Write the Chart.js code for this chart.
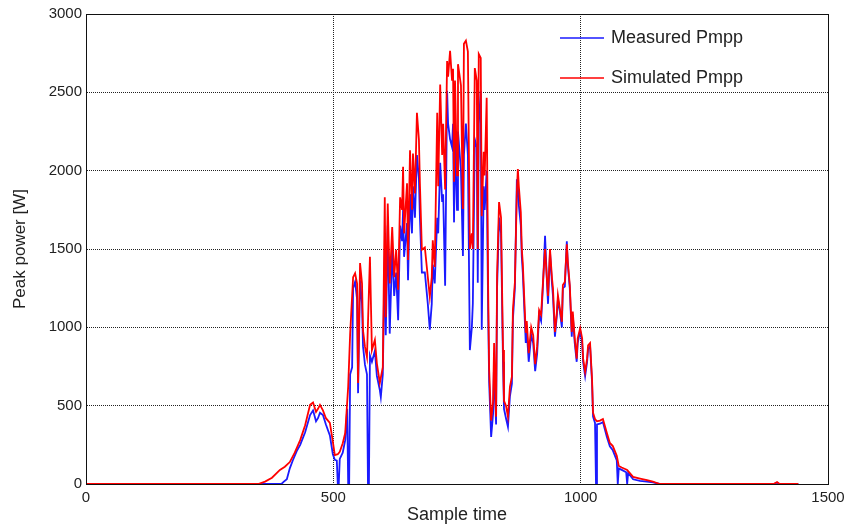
<!DOCTYPE html>
<html>
<head>
<meta charset="utf-8">
<script src="https://cdn.jsdelivr.net/npm/chart.js@4.4.1/dist/chart.umd.min.js"></script>
<style>
  html, body { margin: 0; padding: 0; background: #fff; }
  #wrap { width: 850px; height: 531px; }
</style>
</head>
<body>
<div id="wrap"><canvas id="pmppChart" width="850" height="531"></canvas></div>
<script>
// Sample time axis and peak power readings (W)
const simulatedTime = [
    0, 348, 362, 376, 392, 402, 412, 422, 433, 443, 453, 459, 465, 469, 473, 479, 485, 493, 499, 503,
    509, 513, 519, 524, 530, 534, 540, 544, 548, 550, 554, 558, 560, 564, 568, 574, 578, 584, 588, 594,
    600, 604, 606, 610, 614, 619, 623, 627, 631, 635, 639, 641, 643, 649, 651, 655, 659, 661, 665, 669,
    673, 675, 679, 685, 691, 695, 699, 701, 705, 710, 712, 716, 720, 722, 726, 730, 732, 736, 740, 742,
    744, 746, 750, 752, 758, 762, 764, 768, 772, 776, 780, 782, 786, 790, 792, 794, 798, 800, 804, 806,
    810, 813, 815, 819, 823, 825, 827, 829, 831, 835, 839, 843, 845, 849, 853, 857, 861, 863, 867, 871,
    873, 875, 879, 881, 883, 887, 889, 891, 895, 900, 904, 908, 912, 916, 920, 924, 928, 932, 934, 938,
    942, 944, 948, 952, 954, 958, 962, 964, 968, 972, 974, 978, 982, 984, 988, 992, 994, 999, 1003, 1005,
    1009, 1013, 1015, 1019, 1023, 1025, 1029, 1033, 1039, 1045, 1053, 1059, 1065, 1073, 1077, 1083, 1094, 1106, 1120, 1134,
    1146, 1160, 1390, 1397, 1402, 1440
];
const simulatedPower = [
    0, 0, 15, 40, 90, 110, 140, 200, 280, 375, 505, 520, 460, 480, 505, 470, 420, 390, 270, 185,
    190, 205, 260, 325, 620, 960, 1320, 1345, 1280, 645, 1410, 1280, 980, 875, 810, 1450, 855, 920, 770, 645,
    745, 1830, 1065, 1790, 1280, 1640, 1320, 1495, 1240, 1830, 1750, 2025, 1600, 1920, 1430, 2130, 1750, 2110, 1855, 2370,
    2200, 1920, 1495, 1510, 1320, 1195, 1320, 1555, 1385, 2370, 1900, 2550, 2100, 2300, 1880, 2700, 2600, 2765, 2575, 2650,
    1930, 2575, 1970, 2680, 2545, 1755, 2810, 2830, 2760, 1500, 1600, 1500, 2655, 2575, 1500, 2745, 2720, 1710, 2120, 1970,
    2465, 1240, 730, 405, 530, 900, 640, 430, 1330, 1800, 1700, 855, 530, 500, 430, 620, 685, 1110, 1285, 1865,
    2010, 1900, 1735, 1500, 1410, 1110, 965, 1040, 835, 1000, 950, 765, 875, 1110, 1080, 1300, 1500, 1300, 1200, 1500,
    1315, 1250, 970, 1100, 1205, 1120, 1035, 1270, 1290, 1530, 1420, 1270, 970, 1100, 930, 800, 930, 995, 930, 800,
    715, 800, 885, 900, 670, 455, 415, 400, 405, 415, 325, 262, 242, 180, 115, 105, 90, 45, 35, 25,
    15, 0, 0, 12, 0, 0
];

const measuredTime = [
    0, 395, 400, 406, 412, 418, 426, 433, 443, 453, 459, 465, 469, 473, 479, 485, 493, 499, 503, 507,
    509, 511, 513, 519, 524, 528, 530, 532, 534, 538, 540, 544, 548, 550, 554, 558, 560, 564, 568, 570,
    572, 574, 578, 584, 588, 594, 596, 600, 604, 606, 610, 614, 619, 623, 627, 631, 635, 639, 641, 643,
    649, 651, 655, 659, 661, 665, 669, 673, 675, 679, 685, 691, 695, 699, 701, 705, 710, 712, 716, 720,
    722, 726, 730, 732, 736, 740, 742, 744, 746, 750, 752, 758, 762, 764, 768, 772, 776, 780, 782, 786,
    790, 792, 794, 798, 800, 804, 806, 810, 813, 815, 819, 823, 825, 827, 829, 831, 835, 839, 843, 845,
    849, 853, 857, 861, 863, 867, 871, 873, 875, 879, 881, 883, 887, 889, 891, 895, 900, 904, 908, 912,
    916, 920, 924, 928, 932, 934, 938, 942, 944, 948, 952, 954, 958, 962, 964, 968, 972, 974, 978, 982,
    984, 988, 992, 994, 999, 1003, 1005, 1009, 1013, 1015, 1019, 1023, 1025, 1029, 1031, 1033, 1039, 1045, 1053, 1059,
    1065, 1073, 1075, 1077, 1083, 1092, 1094, 1096, 1106, 1120, 1134, 1146, 1160, 1390, 1397, 1402, 1440
];
const measuredPower = [
    0, 0, 15, 30, 100, 150, 210, 250, 330, 440, 470, 400, 420, 455, 440, 380, 310, 190, 155, 150,
    0, 0, 160, 200, 280, 480, 0, 0, 700, 745, 1250, 1290, 1180, 580, 1300, 1150, 880, 760, 700, 0,
    0, 820, 780, 850, 690, 600, 555, 700, 1500, 950, 1650, 960, 1500, 1200, 1350, 1045, 1650, 1550, 1750, 1450,
    1665, 1300, 1850, 1600, 1900, 1700, 2100, 1950, 1705, 1350, 1350, 1150, 985, 1150, 1400, 1280, 1700, 1600, 2050, 1800,
    1850, 1265, 2510, 2300, 2200, 2150, 2300, 1670, 2200, 1750, 2250, 2000, 1455, 2100, 2300, 2100, 855, 1000, 1150, 2200,
    2150, 1285, 2300, 2510, 985, 1900, 1750, 2000, 1100, 650, 300, 450, 800, 560, 380, 1250, 1700, 1600, 780, 480,
    420, 365, 560, 640, 1050, 1250, 1945, 1900, 1780, 1650, 1450, 1350, 1050, 900, 980, 780, 950, 900, 720, 830,
    1080, 1040, 1280, 1585, 1280, 1150, 1480, 1280, 1200, 940, 1080, 1180, 1100, 1000, 1250, 1260, 1550, 1400, 1250, 940,
    1080, 900, 780, 900, 980, 900, 780, 690, 780, 860, 880, 650, 430, 390, 0, 380, 385, 395, 300, 240,
    215, 150, 0, 100, 90, 75, 0, 70, 30, 20, 15, 10, 0, 0, 8, 0, 0
];

const xTicks = [0, 500, 1000, 1500];
const yTicks = [0, 500, 1000, 1500, 2000, 2500, 3000];
const seriesNames = ['Measured Pmpp', 'Simulated Pmpp'];

const fontFamily = '"Liberation Sans", Arial, sans-serif';

// kutu çerçevesi ve grafik içi açıklama
const boxAndLegend = {
    id: 'boxAndLegend',
    afterDraw(chart) {
        const ctx = chart.ctx;
        const a = chart.chartArea;
        ctx.save();
        ctx.strokeStyle = '#111';
        ctx.lineWidth = 1;
        ctx.setLineDash([]);
        ctx.strokeRect(a.left + 0.5, a.top + 0.5, a.right - a.left, a.bottom - a.top);

        ctx.font = '18px ' + fontFamily;
        ctx.textBaseline = 'middle';
        ctx.textAlign = 'left';
        const rows = [38, 78];
        chart.data.datasets.forEach((ds, i) => {
            const y = rows[i];
            ctx.strokeStyle = ds.borderColor;
            ctx.lineWidth = 1.5;
            ctx.beginPath();
            ctx.moveTo(560, y);
            ctx.lineTo(604, y);
            ctx.stroke();
            ctx.fillStyle = '#222';
            ctx.fillText(ds.label, 611, y);
        });
        ctx.restore();
    }
};

const pmppChart = new Chart(
    document.getElementById('pmppChart'),
    {
        type: 'line',
        data: {
            datasets: [{
                label: seriesNames[0],
                data: measuredTime.map((t, i) => ({ x: t, y: measuredPower[i] })),
                borderColor: '#1a1aff',
                borderWidth: 1.8,
                pointRadius: 0,
                tension: 0,
                order: 2
            }, {
                label: seriesNames[1],
                data: simulatedTime.map((t, i) => ({ x: t, y: simulatedPower[i] })),
                borderColor: '#ff0000',
                borderWidth: 1.8,
                pointRadius: 0,
                tension: 0,
                order: 1
            }]
        },
        options: {
            responsive: false,
            animation: false,
            layout: {
                padding: { top: 14, right: 22, left: 0, bottom: 0 }
            },
            plugins: {
                legend: { display: false },
                tooltip: { enabled: false }
            },
            scales: {
                x: {
                    type: 'linear',
                    min: 0,
                    max: 1500,
                    afterBuildTicks: (scale) => {
                        scale.ticks = xTicks.map(v => ({ value: v }));
                    },
                    afterFit: (scale) => { scale.height = 47; },
                    grid: {
                        color: '#222',
                        drawTicks: false
                    },
                    border: { display: true, color: '#111', dash: [1, 1] },
                    ticks: {
                        color: '#222',
                        padding: 5,
                        font: { family: fontFamily, size: 15 },
                        callback: (v) => String(v)
                    },
                    title: {
                        display: true,
                        text: 'Sample time',
                        color: '#222',
                        padding: { top: 0, bottom: 5 },
                        font: { family: fontFamily, size: 18 }
                    }
                },
                y: {
                    min: 0,
                    max: 3000,
                    afterBuildTicks: (scale) => {
                        scale.ticks = yTicks.map(v => ({ value: v }));
                    },
                    afterFit: (scale) => { scale.width = 86; },
                    grid: {
                        color: '#222',
                        drawTicks: false
                    },
                    border: { display: true, color: '#111', dash: [1, 1] },
                    ticks: {
                        color: '#222',
                        padding: 4,
                        font: { family: fontFamily, size: 15 },
                        callback: (v) => String(v)
                    },
                    title: {
                        display: true,
                        text: 'Peak power [W]',
                        color: '#222',
                        padding: { top: 10, bottom: 0 },
                        font: { family: fontFamily, size: 17 }
                    }
                }
            }
        },
        plugins: [boxAndLegend]
    }
);
</script>
</body>
</html>
